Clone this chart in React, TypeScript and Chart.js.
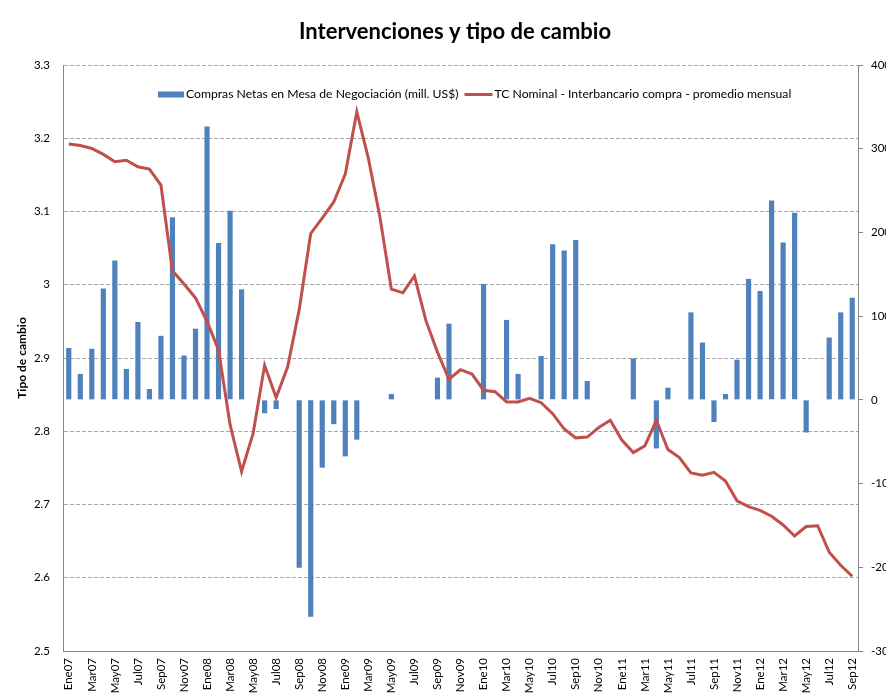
import { useEffect, useRef } from "react";
import { Chart, registerables } from "chart.js";

Chart.register(...registerables);

const months = [
  "Ene07", "Feb07", "Mar07", "Abr07", "May07", "Jun07", "Jul07", "Ago07", "Sep07", "Oct07", "Nov07", "Dic07",
  "Ene08", "Feb08", "Mar08", "Abr08", "May08", "Jun08", "Jul08", "Ago08", "Sep08", "Oct08", "Nov08", "Dic08",
  "Ene09", "Feb09", "Mar09", "Abr09", "May09", "Jun09", "Jul09", "Ago09", "Sep09", "Oct09", "Nov09", "Dic09",
  "Ene10", "Feb10", "Mar10", "Abr10", "May10", "Jun10", "Jul10", "Ago10", "Sep10", "Oct10", "Nov10", "Dic10",
  "Ene11", "Feb11", "Mar11", "Abr11", "May11", "Jun11", "Jul11", "Ago11", "Sep11", "Oct11", "Nov11", "Dic11",
  "Ene12", "Feb12", "Mar12", "Abr12", "May12", "Jun12", "Jul12", "Ago12", "Sep12",
];

// Compras Netas en Mesa de Negociación (mill. US$) - right axis
const comprasNetas = [
  620, 310, 610, 1330, 1665, 370, 930, 130, 765, 2180,
  530, 850, 3265, 1875, 2260, 1320, 0, -160, -110, 0,
  -2005, -2590, -810, -290, -675, -475, 0, 0, 70, 0,
  0, 0, 265, 910, 0, 0, 1385, 0, 955, 310,
  0, 525, 1860, 1785, 1910, 225, 0, 0, 0, 495,
  0, -580, 145, 0, 1045, 685, -265, 70, 480, 1445,
  1300, 2380, 1880, 2235, -390, 0, 745, 1045, 1220,
];

// TC Nominal - Interbancario compra - promedio mensual - left axis
const tipoCambio = [
  3.192, 3.190, 3.186, 3.178, 3.168, 3.170, 3.161, 3.158, 3.136, 3.019,
  3.001, 2.982, 2.950, 2.911, 2.809, 2.745, 2.797, 2.890, 2.846, 2.888,
  2.966, 3.070, 3.091, 3.113, 3.151, 3.236, 3.173, 3.093, 2.994, 2.989,
  3.012, 2.951, 2.908, 2.871, 2.884, 2.878, 2.856, 2.854, 2.840, 2.840,
  2.845, 2.839, 2.824, 2.803, 2.791, 2.792, 2.805, 2.815, 2.788, 2.771,
  2.780, 2.815, 2.775, 2.764, 2.743, 2.740, 2.744, 2.732, 2.705, 2.697,
  2.692, 2.684, 2.672, 2.657, 2.670, 2.671, 2.635, 2.617, 2.602,
];

const leftMin = 2.5;
const leftMax = 3.3;
const leftStep = 0.1;
const rightMin = -3000;
const rightMax = 4000;
const rightStep = 1000;

const seriesLabels = [
  "Compras Netas en Mesa de Negociación (mill. US$)",
  "TC Nominal - Interbancario compra - promedio mensual",
];
const titleText = "Intervenciones y tipo de cambio";
const leftAxisTitle = "Tipo de cambio";

const FONT = "Lato, 'Open Sans', sans-serif";
const BAR_COLOR = "#4F81BD";
const LINE_COLOR = "#C0504D";
const AXIS_COLOR = "#868686";
const GRID_COLOR = "#a6a6a6";

const excelLegend = {
  id: "excelLegend",
  afterDraw(chart: any) {
    const { ctx, chartArea } = chart;
    ctx.save();
    ctx.font = `12.2px ${FONT}`;
    ctx.textBaseline = "middle";
    ctx.textAlign = "left";
    let x = chartArea.left + 95;
    const y = chartArea.top + 29.5;
    chart.data.datasets.forEach((ds: any) => {
      if (ds.type === "bar") {
        ctx.fillStyle = ds.backgroundColor;
        ctx.fillRect(x, y - 3, 26, 6);
        x += 28;
      } else {
        ctx.strokeStyle = ds.borderColor;
        ctx.lineWidth = 3;
        ctx.beginPath();
        ctx.moveTo(x, y);
        ctx.lineTo(x + 28, y);
        ctx.stroke();
        x += 30;
      }
      ctx.fillStyle = "#000";
      ctx.fillText(ds.label, x, y);
      x += ctx.measureText(ds.label).width + 6;
    });
    ctx.restore();
  },
};

export default function App() {
  const canvasRef = useRef<HTMLCanvasElement | null>(null);

  useEffect(() => {
    if (!canvasRef.current) return;
    const chart = new Chart(canvasRef.current, {
      type: "bar",
      data: {
        labels: months,
        datasets: [
          {
            type: "bar",
            label: seriesLabels[0],
            data: comprasNetas,
            backgroundColor: BAR_COLOR,
            borderWidth: 0,
            yAxisID: "y1",
            barPercentage: 0.45,
            categoryPercentage: 1,
            order: 2,
          } as any,
          {
            type: "line",
            label: seriesLabels[1],
            data: tipoCambio,
            borderColor: LINE_COLOR,
            backgroundColor: LINE_COLOR,
            borderWidth: 3,
            pointRadius: 0,
            tension: 0,
            yAxisID: "y",
            order: 1,
          } as any,
        ],
      },
      options: {
        responsive: false,
        animation: false,
        devicePixelRatio: 1,
        layout: { padding: 0 },
        plugins: {
          legend: { display: false },
          tooltip: { enabled: false },
          title: {
            display: true,
            text: titleText,
            color: "#000",
            font: { family: FONT, size: 22, weight: "bold" },
            padding: { top: 12, bottom: 19.6 },
          },
        },
        scales: {
          x: {
            type: "category",
            offset: true,
            grid: { display: false, drawTicks: false },
            border: { display: true, color: AXIS_COLOR, width: 1 },
            ticks: {
              autoSkip: false,
              maxRotation: 90,
              minRotation: 90,
              padding: 7,
              color: "#000",
              font: { family: FONT, size: 11.5 },
              callback: (_v: any, i: number) => (i % 2 === 0 ? months[i] : ""),
            },
            afterFit: (s: any) => {
              s.height = 46;
            },
          },
          y: {
            type: "linear",
            position: "left",
            min: leftMin,
            max: leftMax,
            grid: { color: GRID_COLOR, drawTicks: false, lineWidth: 1 },
            border: { display: true, color: AXIS_COLOR, dash: [4, 2] },
            ticks: {
              stepSize: leftStep,
              padding: 13,
              color: "#000",
              font: { family: FONT, size: 11.5 },
              callback: (v: any) => String(Math.round(Number(v) * 10) / 10),
            },
            title: {
              display: true,
              text: leftAxisTitle,
              color: "#000",
              font: { family: FONT, size: 12, weight: "bold" },
              padding: { top: 7, bottom: 0 },
            },
            afterFit: (s: any) => {
              s.width = 55;
            },
          },
          y1: {
            type: "linear",
            position: "right",
            min: rightMin,
            max: rightMax,
            grid: {
              drawOnChartArea: false,
              drawTicks: true,
              tickLength: 5,
              tickColor: AXIS_COLOR,
            },
            border: { display: true, color: AXIS_COLOR },
            ticks: {
              stepSize: rightStep,
              padding: 8,
              color: "#000",
              font: { family: FONT, size: 11.5 },
              callback: (v: any) => String(Math.round(Number(v))),
            },
            afterFit: (s: any) => {
              s.width = 44;
            },
          },
        },
      } as any,
      plugins: [excelLegend],
    });
    return () => chart.destroy();
  }, []);

  return (
    <div
      style={{
        width: 886,
        height: 690,
        overflow: "hidden",
        borderTop: "1px solid #a6a6a6",
        borderLeft: "1px solid #a6a6a6",
        marginTop: -2,
        marginLeft: -1,
        position: "relative",
        background: "#fff",
      }}
    >
      <canvas ref={canvasRef} width={894} height={690} style={{ display: "block" }} />
    </div>
  );
}
